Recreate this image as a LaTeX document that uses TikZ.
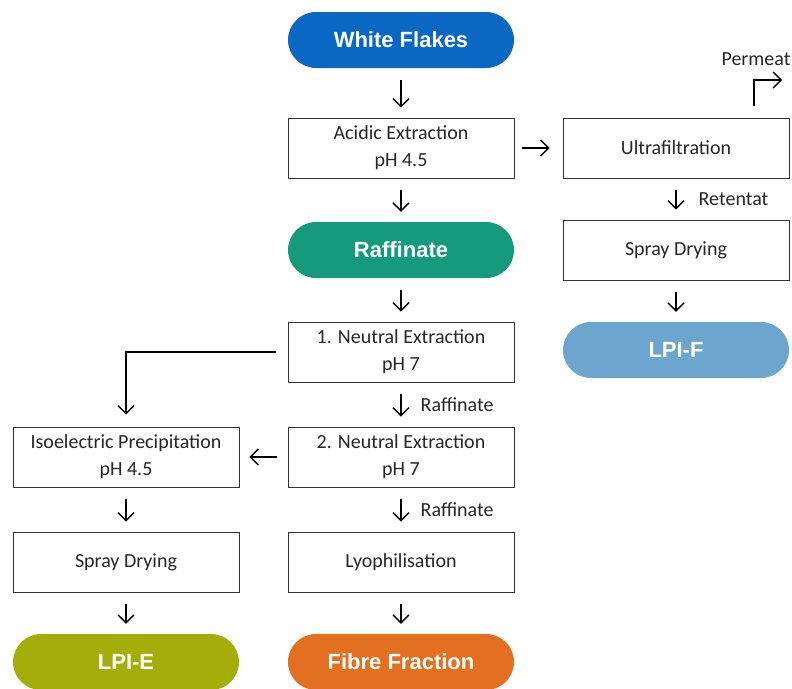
\documentclass[tikz,border=0pt]{standalone}
\usepackage{fontspec}
\setmainfont{Carlito}
\newfontfamily\pillfont{Liberation Sans}
\usetikzlibrary{arrows.meta}
\definecolor{flakeblue}{HTML}{0A67C3}
\definecolor{raffgreen}{HTML}{169A7C}
\definecolor{lpifblue}{HTML}{6CA5CD}
\definecolor{lpieolive}{HTML}{A4AE0B}
\definecolor{fibreorange}{HTML}{E36F21}
\tikzset{
  procbox/.style={draw=black!80, line width=0.9pt, fill=white, minimum width=226pt,
    minimum height=60pt, align=center, text=black!85, inner sep=0pt,
    font=\fontsize{20}{27}\selectfont},
  pill/.style={rounded corners=28pt, minimum width=226pt, minimum height=56pt,
    text=white, inner sep=0pt, font=\pillfont\bfseries\fontsize{22}{26}\selectfont},
  lbl/.style={text=black!85, inner sep=0pt, anchor=west, font=\fontsize{20}{24}\selectfont},
  flow/.style={-{Straight Barb[length=8pt,width=16pt]}, line width=1.4pt,
    shorten <=12pt, shorten >=10pt},
}
\begin{document}
\begin{tikzpicture}[x=1pt, y=-1pt]
      \useasboundingbox (0,0) rectangle (792,688);
      \node[pill, fill=flakeblue] (wf) at (401,40) {White Flakes};
      \node[procbox] (acid) at (401,148) {Acidic Extraction\\pH 4.5};
      \node[pill, fill=raffgreen] (raff) at (401,250) {Raffinate};
      \node[procbox] (ne1) at (401,352) {1. Neutral Extraction\\pH 7};
      \node[procbox] (ne2) at (401,457) {2. Neutral Extraction\\pH 7};
      \node[procbox] (lyo) at (401,562) {Lyophilisation};
      \node[pill, fill=fibreorange] (fibre) at (401,662) {Fibre Fraction};
      \node[procbox] (iep) at (126,457) {Isoelectric Precipitation\\pH 4.5};
      \node[procbox] (sde) at (126,562) {Spray Drying};
      \node[pill, fill=lpieolive] (lpie) at (126,662) {LPI-E};
      \node[procbox] (uf) at (676,148) {Ultrafiltration};
      \node[procbox] (sdf) at (676,250) {Spray Drying};
      \node[pill, fill=lpifblue] (lpif) at (676,350) {LPI-F};
      \node[lbl, anchor=center] (perm) at (756,59) {Permeat};
      \coordinate (permfoot) at (754,118);
      \coordinate (permtip) at (782,80);
      \begin{scope}[flow]
        \draw (wf) to (acid);
        \draw (acid) to (raff);
        \draw (raff) to (ne1);
        \draw (ne1) to node[lbl, xshift=19pt] {Raffinate} (ne2);
        \draw (ne2) to node[lbl, xshift=19pt] {Raffinate} (lyo);
        \draw (lyo) to (fibre);
        \draw[shorten >=12pt] (ne1.west) -| (iep.north);
        \draw[shorten <=11pt] (ne2) to (iep);
        \draw (iep) to (sde);
        \draw (sde) to (lpie);
        \draw[shorten <=8pt, shorten >=13pt] (acid) to (uf);
        \draw[shorten >=0pt] (permfoot) |- (permtip);
        \draw (uf) to node[lbl, xshift=22pt] {Retentat} (sdf);
        \draw (sdf) to (lpif);
      \end{scope}
    \end{tikzpicture}
\end{document}
